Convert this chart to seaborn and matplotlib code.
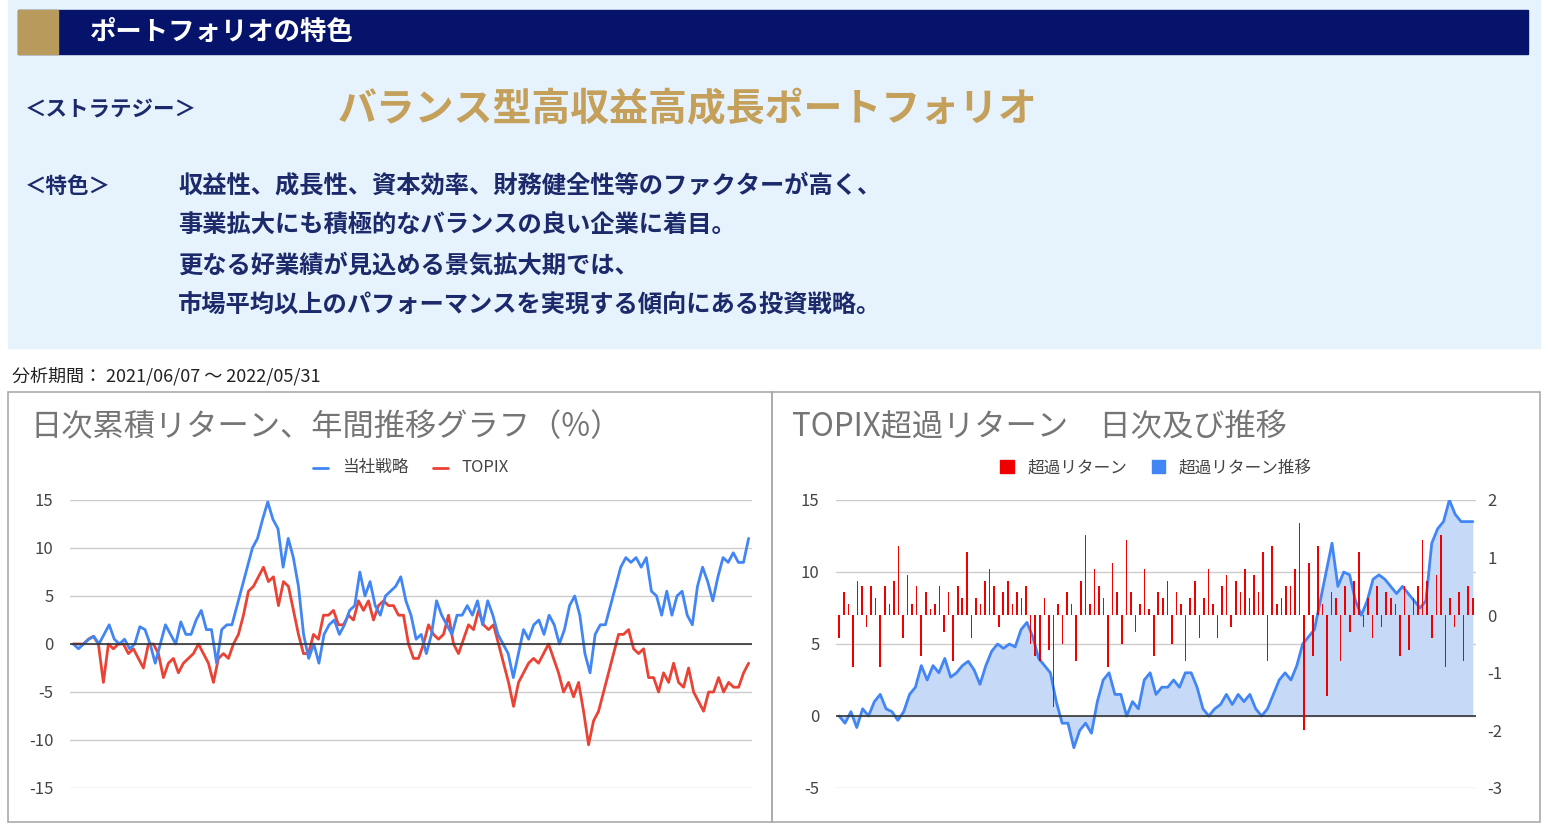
import numpy as np
import pandas as pd
import matplotlib
matplotlib.use("Agg")
import matplotlib.pyplot as plt
from matplotlib.patches import Rectangle, Patch
import seaborn as sns

sns.set_theme(style="white")
plt.rcParams['font.family'] = ['Noto Sans CJK JP', 'DejaVu Sans']
plt.rcParams['axes.unicode_minus'] = False

# ---------------- data ----------------
strategy = [0, -0.5, 0, 0.5, 0.8, 0, 1, 2, 0.5, 0, 0.5, -0.5, 0, 1.8, 1.5, 0, -2, 0, 2, 1, 0, 2.3, 1, 1,
            2.5, 3.5, 1.5, 1.5, -2, 1.5, 2, 2, 4, 6, 8, 10, 11, 13, 14.8, 13, 12, 8, 11, 9, 6, 1, -1.5, 0,
            -2, 1, 2, 2.5, 1, 2, 3.5, 4, 7.5, 5, 6.5, 4, 3, 5, 5.5, 6, 7, 4.5, 3, 0.5, 1, -1, 1, 4.5, 3, 2,
            1, 3, 3, 4, 3, 4.5, 2, 4.5, 3, 1, 0, -1, -3.5, -1, 1.5, 0.5, 2, 2.5, 1, 3, 2, 0, 1.5, 4, 5, 3,
            -1, -3, 1, 2, 2, 4, 6, 8, 9, 8.5, 9, 8, 9, 5.5, 5, 3, 5.5, 3, 5, 5.5, 3, 2, 6, 8, 6.5, 4.5, 7,
            9, 8.5, 9.5, 8.5, 8.5, 11]
topix = [0, 0, 0, 0.5, 0.8, 0, -4, 0, -0.5, 0, 0, -1, -0.5, -1.5, -2.5, 0, 0, -1, -3.5, -2, -1.5, -3, -2,
         -1.5, -1, 0, -1, -2, -4, -1.5, -1, -1.5, 0, 1, 3, 5.5, 6, 7, 8, 6.5, 7, 4, 6.5, 6, 3.5, 1, -1, -1,
         1, 0.5, 3, 3, 3.5, 2, 2, 3, 2.5, 4.5, 3.5, 4.5, 2.5, 4, 4.5, 4, 4, 3, 3, 0, -1.5, -1.5, 0, 2, 1,
         0.5, 1, 3, 0, -1, 0.5, 2, 1.5, 3.5, 2, 1.5, 2, 0, -2, -4, -6.5, -4, -3, -2, -1.5, -2, -1, 0, -1.5,
         -3, -5, -4, -5.5, -4, -7, -10.5, -8, -7, -5, -3, -1, 1, 1, 1.5, -0.5, -1, -0.5, -3.5, -3.5, -5, -3,
         -4, -2, -4, -4.5, -2.5, -5, -6, -7, -5, -5, -3.5, -5, -4, -4.5, -4.5, -3, -2]
excess_cum = [0, -0.5, 0.3, -0.8, 0.5, 0, 1, 1.5, 0.5, 0.3, -0.3, 0.3, 1.5, 2, 3.5, 2.5, 3.5, 3, 4, 2.7, 3,
              3.5, 3.8, 3.2, 2.2, 3.5, 4.5, 5, 4.7, 5, 4.8, 6, 6.5, 5.5, 4, 3.5, 3, 1, -0.5, -0.5, -2.2, -1,
              -0.5, -1.2, 1, 2.5, 3, 1.5, 1.5, 0, 1, 0.5, 2.5, 3, 1.5, 2, 2, 2.5, 2, 3, 3, 2, 0.5, 0, 0.5,
              0.8, 1.5, 0.8, 1.5, 1, 1.5, 0.5, 0, 0.5, 1.5, 2.5, 3, 2.5, 3.5, 5, 5.5, 6, 8, 10, 12, 9, 10,
              9.8, 8, 7, 8, 9.5, 9.8, 9.5, 9, 8.5, 9, 8.5, 8, 7.5, 8, 12, 13, 13.5, 15, 14, 13.5, 13.5, 13.5]
excess_daily = [-0.4, 0.4, 0.2, -0.9, 0.6, 0.5, -0.2, 0.5, 0.3, -0.9, 0.5, 0.2, 0.6, 1.2, -0.4, 0.7, 0.2,
                0.5, -0.7, 0.4, 0.1, 0.2, 0.5, -0.3, 0.4, -0.8, 0.5, 0.3, 1.1, -0.4, 0.3, 0.2, 0.6, 0.8,
                0.5, -0.2, 0.4, 0.6, 0.2, 0.4, 0.3, 0.5, -0.5, -0.7, -0.8, 0.3, -0.6, -1.6, 0.2, -0.5, 0.4,
                0.2, -0.8, 0.6, 1.4, 0.2, 0.8, 0.5, 0.3, -0.9, 0.9, 0.4, -0.5, 1.3, 0.4, -0.3, 0.2, 0.8, 0.1,
                -0.7, 0.4, 0.3, 0.6, -0.5, 0.4, 0.2, -0.8, 0.3, 0.6, -0.4, 0.3, 0.8, 0.2, -0.4, 0.5, 0.7,
                -0.2, 0.6, 0.4, 0.8, 0.3, 0.7, 0.4, 1.1, -0.8, 1.2, 0.2, 0.3, 0.5, 0.5, 0.8, 1.6, -2.0, 0.9,
                -0.7, 1.2, 0.2, -1.4, 0.4, 0.3, -0.8, 0.5, -0.3, 0.6, 1.1, -0.2, 0.3, -0.4, 0.5, -0.2, 0.4,
                0.3, 0.2, -0.7, 0.5, -0.6, 0.3, 0.5, 1.3, 0.6, -0.4, 0.7, 1.4, -0.9, 0.3, -0.2, 0.4, -0.8,
                0.5, 0.3]
left_ticks = [-15, -10, -5, 0, 5, 10, 15]
right_ticks_l = [-5, 0, 5, 10, 15]
right_ticks_r = [-3, -2, -1, 0, 1, 2]

strategy = np.array(strategy)
topix = np.array(topix)
excess_cum = np.array(excess_cum)
excess_daily = np.array(excess_daily)

W, H = 1548, 831
fig = plt.figure(figsize=(W / 100, H / 100), dpi=100)
fig.patch.set_facecolor("white")

def fx(px):
    return px / W

def fy(py):
    return 1 - py / H

NAVY_TXT = "#1c2a6b"
# ---------------- top info panel ----------------
bg = fig.add_axes([0, 0, 1, 1], zorder=-5)
bg.set_xlim(0, W)
bg.set_ylim(H, 0)
bg.axis("off")
bg.add_patch(Rectangle((8, 0), 1532, 348, color="#e6f3fc"))
bg.add_patch(Rectangle((18, 10), 1510, 44, color="#06136a"))
bg.add_patch(Rectangle((18, 10), 40, 44, color="#b89a5c"))
bg.text(90, 32, "ポートフォリオの特色", color="white", fontsize=19, fontweight="bold", va="center")
bg.text(25, 110, "＜ストラテジー＞", color=NAVY_TXT, fontsize=15.5, fontweight="bold", va="center")
bg.text(338, 110, "バランス型高収益高成長ポートフォリオ", color="#c4a05a", fontsize=28,
        fontweight="bold", va="center")
bg.text(25, 186, "＜特色＞", color=NAVY_TXT, fontsize=15.5, fontweight="bold", va="center")
lines = ["収益性、成長性、資本効率、財務健全性等のファクターが高く、",
         "事業拡大にも積極的なバランスの良い企業に着目。",
         "更なる好業績が見込める景気拡大期では、",
         "市場平均以上のパフォーマンスを実現する傾向にある投資戦略。"]
for i, t in enumerate(lines):
    bg.text(178, 186 + 40 * i, t, color=NAVY_TXT, fontsize=17.5, fontweight="bold", va="center")
bg.text(12, 376, "分析期間： 2021/06/07 ～ 2022/05/31", color="#222222", fontsize=13, va="center")
bg.add_patch(Rectangle((8, 392), 764, 430, fill=False, edgecolor="#aaaaaa", lw=1.2))
bg.add_patch(Rectangle((772, 392), 768, 430, fill=False, edgecolor="#aaaaaa", lw=1.2))
bg.text(30, 427, "日次累積リターン、年間推移グラフ（%）", color="#757575", fontsize=22.5, va="center")
bg.text(792, 427, "TOPIX超過リターン　日次及び推移", color="#757575", fontsize=22.5, va="center")

BLUE = "#4285f4"
RED = "#ea4335"

# ---------------- left chart ----------------
ax1 = fig.add_axes([fx(70), fy(788), fx(682), 288 / H])
df1 = pd.DataFrame({"x": np.linspace(0, 1, len(strategy)), "y": strategy})
df2 = pd.DataFrame({"x": np.linspace(0, 1, len(topix)), "y": topix})
sns.lineplot(data=df2, x="x", y="y", ax=ax1, color=RED, lw=2, label="TOPIX")
sns.lineplot(data=df1, x="x", y="y", ax=ax1, color=BLUE, lw=2, label="当社戦略")
ax1.set_ylim(-15, 15)
ax1.set_xlim(-0.005, 1.005)
ax1.set_yticks(left_ticks)
ax1.set_xticks([])
ax1.grid(axis="y", color="#cccccc", lw=1)
ax1.axhline(0, color="#333333", lw=1.2)
ax1.set_xlabel("")
ax1.set_ylabel("")
for s in ax1.spines.values():
    s.set_visible(False)
ax1.tick_params(axis="y", labelsize=12, labelcolor="#444444", length=0, pad=12)
h, l = ax1.get_legend_handles_labels()
ax1.legend([h[1], h[0]], [l[1], l[0]], loc="lower center", bbox_to_anchor=(0.5, 1.03), ncol=2,
           frameon=False, fontsize=12, handlelength=0.9, handleheight=0.3, columnspacing=1.5,
           labelcolor="#444444")
ax1.set_facecolor("none")

# ---------------- right chart ----------------
rect = [fx(836), fy(788), fx(640), 288 / H]
ax2 = fig.add_axes(rect)
dfc = pd.DataFrame({"x": np.linspace(0, 1, len(excess_cum)), "y": excess_cum})
ax2.fill_between(dfc["x"], dfc["y"], 0, color="#c6d9f7", lw=0)
sns.lineplot(data=dfc, x="x", y="y", ax=ax2, color=BLUE, lw=2)
ax2.set_ylim(-5, 15)
ax2.set_xlim(-0.005, 1.005)
ax2.set_yticks(right_ticks_l)
ax2.set_xticks([])
ax2.grid(axis="y", color="#cccccc", lw=1)
ax2.axhline(0, color="#333333", lw=1.2)
ax2.set_xlabel("")
ax2.set_ylabel("")
ax2.tick_params(axis="y", labelsize=12, labelcolor="#444444", length=0, pad=12)

ax3 = fig.add_axes(rect, zorder=3)
dfb = pd.DataFrame({"x": np.arange(len(excess_daily)), "y": excess_daily})
sns.barplot(data=dfb, x="x", y="y", ax=ax3, color="#ee0000", width=0.35, saturation=1,
            linewidth=0, edgecolor="none")
ax3.set_ylim(-3, 2)
ax3.set_xlim(-0.7, len(excess_daily) - 0.3)
ax3.set_yticks(right_ticks_r)
ax3.yaxis.tick_right()
ax3.set_xticks([])
ax3.set_xlabel("")
ax3.set_ylabel("")
ax3.tick_params(axis="y", labelsize=12, labelcolor="#444444", length=0, pad=8)
ax3.patch.set_visible(False)
for a in (ax2, ax3):
    for s in a.spines.values():
        s.set_visible(False)

ax3.legend([Patch(color="#ee0000"), Patch(color=BLUE)], ["超過リターン", "超過リターン推移"],
           loc="lower center", bbox_to_anchor=(0.5, 1.03), ncol=2, frameon=False, fontsize=12,
           handlelength=0.8, handleheight=0.8, columnspacing=1.5, labelcolor="#444444")

fig.savefig("out.png", dpi=100)
